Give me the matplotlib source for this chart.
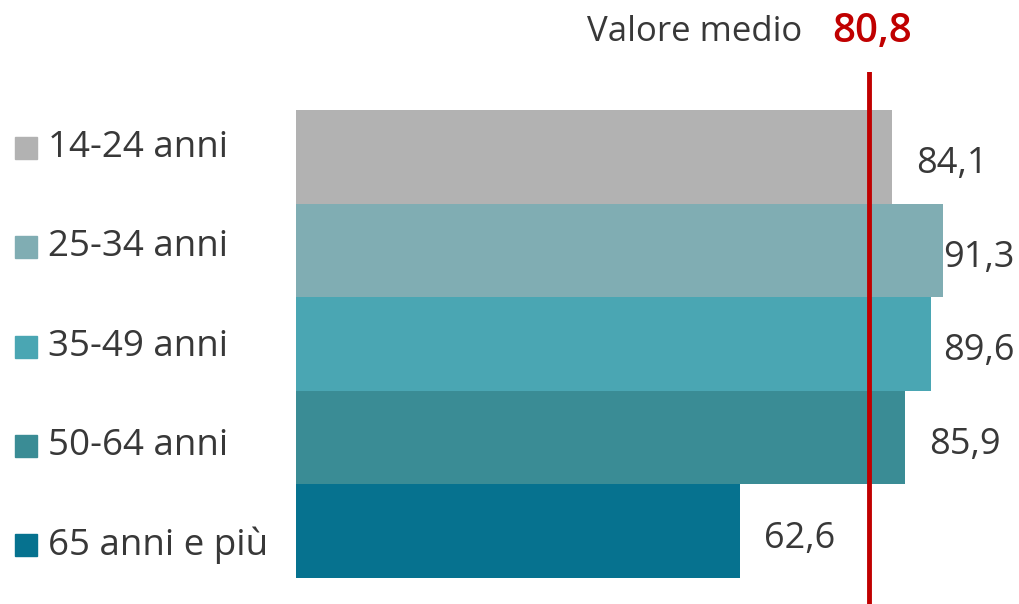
import matplotlib.pyplot as plt

plt.rcParams['font.family'] = ['Open Sans', 'DejaVu Sans']

# Data
categories = ['14-24 anni', '25-34 anni', '35-49 anni', '50-64 anni', '65 anni e più']
values = [84.1, 91.3, 89.6, 85.9, 62.6]
mean_value = 80.8
colors = ['#b2b2b2', '#80adb3', '#4aa6b3', '#3a8c95', '#06728f']

text_color = '#383838'
red = '#c00000'

W, H = 1020, 604
fig = plt.figure(figsize=(W / 100, H / 100), dpi=100)

# axes placed so that x=0 sits at pixel 296 and the red line spans 72..604
ax = fig.add_axes([296 / W, 0, 1 - 296 / W, (H - 72) / H])
ypos = list(range(len(categories)))
ax.barh(ypos, values, height=1.0, color=colors, edgecolor='none')
ax.set_xlim(0, 102.1)
ax.set_ylim(4.778, -0.906)
ax.axvline(mean_value, color=red, lw=3.5)
ax.axis('off')

# value labels
fmt = lambda v: f'{v:.1f}'.replace('.', ',')
for y, v in zip(ypos, values):
    ax.text(min(v + 3.4, 91.3), y + 0.08, fmt(v), ha='left', va='center',
            fontsize=26, color=text_color)

# left legend
for i, (cat, col) in enumerate(zip(categories, colors)):
    yf = 1 - (148 + i * 99.25) / H
    fig.patches.append(plt.Rectangle((15 / W, yf - 11 / H), 22 / W, 22 / H,
                                     transform=fig.transFigure, color=col))
    fig.text(48 / W, yf, cat, ha='left', va='center', fontsize=26.5, color=text_color)

# mean header
fig.text(587 / W, 1 - 32 / H, 'Valore medio', ha='left', va='center',
         fontsize=25, color=text_color)
fig.text(872 / W, 1 - 32 / H, fmt(mean_value), ha='center', va='center',
         fontsize=29, color=red, fontweight='semibold')

fig.savefig('out.png', dpi=100)
